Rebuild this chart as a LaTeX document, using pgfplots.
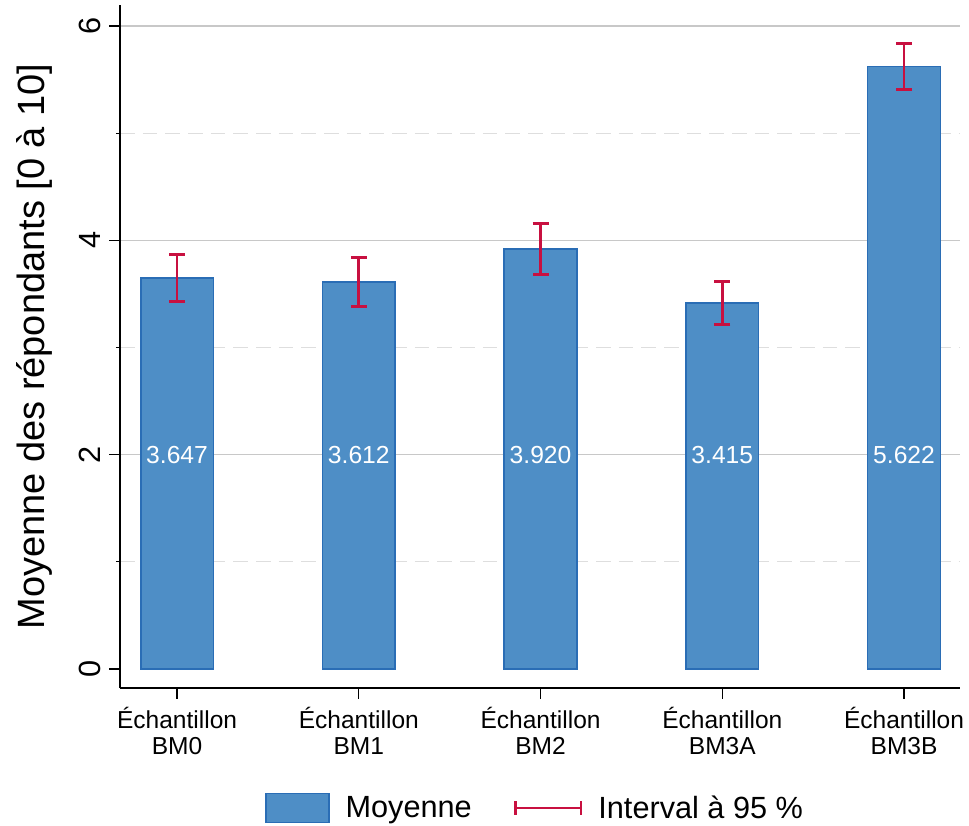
\documentclass[border=0pt]{standalone}
\usepackage{pgfplots}
\pgfplotsset{compat=1.18}
\usepackage{pgfplotstable}
\usepackage{fontspec}
\setmainfont{Liberation Sans}
\definecolor{barfill}{RGB}{78,142,198}
\definecolor{baredge}{RGB}{42,109,181}
\definecolor{errc}{RGB}{200,16,64}
\definecolor{gridA}{RGB}{200,200,200}
\definecolor{gridB}{RGB}{222,222,222}
\pgfplotstableread{
x y ep ly label
0 3.647 0.218 2 3.647
1 3.612 0.228 2 3.612
2 3.920 0.240 2 3.920
3 3.415 0.203 2 3.415
4 5.622 0.217 2 5.622
}\data
\begin{document}
\begin{tikzpicture}
\begin{axis}[
  at={(0,0)}, anchor=south west,
  scale only axis, width=630pt, height=512.25pt,
  xmin=-0.314, xmax=4.308, ymin=-0.1773, ymax=6.196,
  axis x line*=bottom, axis y line*=left,
  axis line style={black, line width=1.1pt},
  /pgf/number format/assume math mode=true,
  xtick={0,1,2,3,4},
  xticklabels={{Échantillon\\BM0},{Échantillon\\BM1},{Échantillon\\BM2},{Échantillon\\BM3A},{Échantillon\\BM3B}},
  xticklabel style={align=center, font=\fontsize{18.4}{19.5}\selectfont, text=black, yshift=-3pt},
  ytick={2,4,6}, extra y ticks={0}, extra y tick style={grid=none},
  minor ytick={1,3,5},
  ymajorgrids, yminorgrids,
  major grid style={solid, gridA, line width=0.8pt},
  minor grid style={gridB, line width=0.8pt, dash pattern=on 11pt off 6pt},
  tick align=outside,
  major tick length=8pt, minor tick length=3pt,
  tick style={black, line width=0.9pt},
  yticklabel style={xshift=-3pt, rotate=90, anchor=south, font=\fontsize{23}{27}\selectfont},
  ylabel={Moyenne des répondants [0 à 10]},
  ylabel style={at={(axis description cs:-0.1024,0.5)}, anchor=center, font=\fontsize{28.5}{32}\selectfont},
  legend style={at={(axis description cs:0.4946,-0.1757)}, anchor=center, draw=none,
    legend columns=2, font=\fontsize{23}{27}\selectfont,
    /tikz/every even column/.append style={column sep=30pt},
    /tikz/every odd column/.append style={column sep=10pt}},
]
\addplot[ybar, bar width=0.4, fill=barfill, draw=baredge, line width=1.2pt,
  legend image code/.code={\draw[fill=barfill, draw=baredge, line width=1.2pt] (0pt,-11pt) rectangle (47pt,11pt);}]
  table[x=x, y=y]{\data};
\addlegendentry{Moyenne}
\addplot[draw=none, mark=none,
  legend image code/.code={\draw[errc, line width=2pt] (0pt,0pt) -- (49pt,0pt);
    \draw[errc, line width=2pt] (0pt,-5pt) -- (0pt,5pt);
    \draw[errc, line width=2pt] (49pt,-5pt) -- (49pt,5pt);},
  error bars/.cd, y dir=both, y explicit,
  error bar style={draw=errc, line width=2pt},
  error mark options={draw=errc, line width=2pt, mark size=6pt, rotate=90}]
  table[x=x, y=y, y error=ep]{\data};
\addlegendentry{Interval à 95 \%}
\addplot[forget plot, only marks, mark=*, mark size=0pt, draw=none, fill=none,
  nodes near coords, point meta=explicit symbolic, nodes near coords align=center,
  nodes near coords style={anchor=center, text=white, font=\fontsize{18.5}{20}\selectfont}]
  table[x=x, y=ly, meta=label]{\data};
\end{axis}
\pgfresetboundingbox
\path[use as bounding box] (-90pt,-102.75pt) rectangle (636.75pt,516pt);
\end{tikzpicture}
\end{document}
